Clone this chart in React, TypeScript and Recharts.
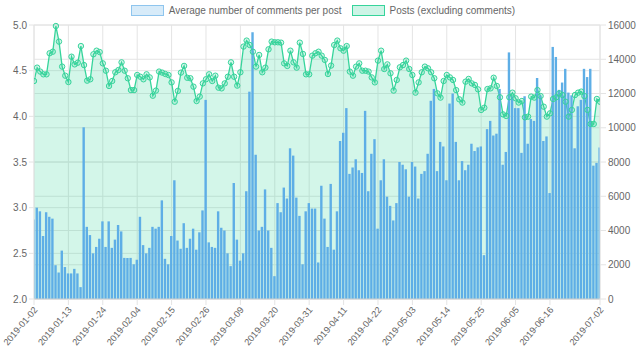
import React from 'react';
import { ComposedChart, Bar, Area, XAxis, YAxis, CartesianGrid } from 'recharts';

const START_DATE = Date.UTC(2019, 0, 2);

const avgComments = [
  2.87, 3.00, 2.96, 2.69, 2.95, 2.90, 2.88, 2.37, 2.29, 2.53,
  2.35, 2.28, 2.28, 2.33, 2.28, 2.13, 3.88, 2.79, 2.70, 2.50,
  2.57, 2.66, 2.85, 2.57, 2.85, 2.56, 2.65, 2.81, 2.74, 2.45,
  2.45, 2.45, 2.38, 2.43, 2.90, 2.59, 2.50, 2.56, 2.79, 2.77,
  2.79, 3.08, 2.44, 2.38, 2.69, 3.30, 2.64, 2.55, 2.83, 2.56,
  2.66, 2.77, 2.54, 2.73, 2.97, 4.18, 2.62, 2.57, 2.56, 2.96,
  2.78, 2.75, 2.50, 2.36, 3.27, 2.65, 2.42, 2.50, 3.18, 4.27,
  4.92, 3.58, 2.75, 2.79, 3.20, 2.75, 2.56, 2.25, 3.05, 2.95,
  3.22, 3.10, 3.65, 3.57, 3.11, 2.91, 2.38, 2.96, 3.05, 2.99,
  2.99, 2.40, 3.24, 2.88, 2.57, 3.26, 2.54, 2.96, 3.73, 3.82,
  4.09, 3.37, 3.44, 3.53, 3.41, 3.38, 4.06, 3.18, 3.59, 3.75,
  2.77, 3.30, 3.53, 3.12, 3.02, 2.86, 3.05, 3.50, 3.47, 3.42,
  3.12, 3.50, 3.45, 3.10, 3.37, 3.40, 3.59, 4.17, 4.30, 3.40,
  3.72, 3.67, 3.30, 4.14, 4.25, 3.72, 3.30, 3.51, 3.41, 3.47,
  3.70, 3.62, 3.66, 3.67, 2.48, 3.86, 3.95, 3.79, 3.81, 4.30,
  3.47, 3.61, 4.70, 4.22, 4.09, 4.09, 3.60, 4.22, 3.70, 3.97,
  3.95, 4.42, 4.23, 3.73, 3.78, 3.16, 4.76, 4.65, 4.29, 4.37,
  4.52, 4.26, 4.23, 3.65, 4.11, 4.18, 4.52, 4.43, 4.52, 3.46,
  3.49, 3.66,
];

const posts = [
  12730, 13510, 13280, 13120, 13120, 14350, 14440, 15940, 15030, 13570,
  13040, 12670, 14150, 13700, 13800, 14770, 13660, 12750, 12830, 14290,
  14500, 14420, 13760, 13330, 12440, 12730, 13240, 13370, 13820, 13330,
  12890, 12200, 12200, 13080, 12980, 12830, 13120, 12940, 11870, 12170,
  13280, 13220, 13140, 13080, 12650, 11520, 12150, 13220, 13610, 12920,
  12890, 12400, 11560, 11820, 12590, 12830, 13120, 12730, 13040, 12340,
  12300, 12590, 12980, 13820, 12980, 12460, 13240, 14740, 15090, 14830,
  14440, 13570, 14250, 13240, 13510, 14580, 15030, 14990, 14990, 14970,
  13760, 13610, 14500, 13820, 13510, 14970, 14310, 13120, 13120, 14210,
  14350, 14440, 14210, 13960, 13140, 13630, 14830, 15090, 14640, 14500,
  14770, 13280, 13040, 13570, 13760, 13330, 13330, 13280, 12940, 12650,
  13920, 14500, 13430, 13700, 13180, 12170, 12790, 13530, 13660, 13920,
  13430, 13080, 12050, 12650, 13240, 13570, 13470, 13240, 12890, 12010,
  11760, 12730, 13080, 12940, 12790, 12200, 11660, 11470, 12690, 12850,
  12590, 12500, 12240, 11040, 11170, 12260, 12300, 12920, 12440, 11780,
  10780, 10690, 11780, 12050, 11720, 11470, 11560, 10610, 10650, 11820,
  11760, 12200, 11850, 11230, 10650, 10840, 11680, 11780, 12010, 11910,
  11520, 10650, 11040, 11910, 12050, 12110, 11850, 11040, 10220, 10220,
  11680, 11520,
];

const dates = avgComments.map((_, i) =>
  new Date(START_DATE + i * 86400000).toISOString().slice(0, 10)
);

const xTickLabels = [
  '2019-01-02', '2019-01-13', '2019-01-24', '2019-02-04', '2019-02-15',
  '2019-02-26', '2019-03-09', '2019-03-20', '2019-03-31', '2019-04-11',
  '2019-04-22', '2019-05-03', '2019-05-14', '2019-05-25', '2019-06-05',
  '2019-06-16', '2019-07-02',
];

const leftTicks = [2, 2.5, 3, 3.5, 4, 4.5, 5];
const rightTicks = [0, 2000, 4000, 6000, 8000, 10000, 12000, 14000, 16000];

const seriesNames = ['Average number of comments per post', 'Posts (excluding comments)'];

const data = dates.map((d, i) => ({ i, date: d, avg: avgComments[i], posts: posts[i] }));
const xTicks = xTickLabels.map((l) => dates.indexOf(l));

const BLUE = '#5eaee6';
const GREEN = '#36d49b';
const TEXT = '#666';
const GRID = '#e4e4e4';
const FONT = '"Liberation Sans", Arial, sans-serif';

const XTick = (props: any) => {
  const { x, y, payload } = props;
  return (
    <g transform={`translate(${x + 1.5},${y + 1})`}>
      <text x={0} y={0} dy="0.35em" textAnchor="end" transform="rotate(-50)" fill={TEXT}
        fontSize={9.2} fontFamily={FONT}>
        {dates[payload.value]}
      </text>
    </g>
  );
};

const LegendBox = ({ fill, stroke, label }: { fill: string; stroke: string; label: string }) => (
  <div style={{ display: 'flex', alignItems: 'center', marginRight: 10 }}>
    <div style={{ width: 31, height: 9, background: fill, border: `1px solid ${stroke}`, marginRight: 5 }} />
    <span style={{ fontSize: 10, color: TEXT, fontFamily: FONT }}>{label}</span>
  </div>
);

export default function App() {
  return (
    <div style={{ position: 'absolute', left: 0, top: 0, width: 640, height: 361, background: '#fff' }}>
      <div style={{ position: 'absolute', top: 5, left: 0, width: 640, display: 'flex', justifyContent: 'center', paddingLeft: 8 }}>
        <LegendBox fill="rgba(94,174,230,0.25)" stroke="#8ec5ee" label={seriesNames[0]} />
        <LegendBox fill="rgba(54,212,155,0.25)" stroke={GREEN} label={seriesNames[1]} />
      </div>
      <ComposedChart width={640} height={361} data={data} margin={{ top: 25, right: 0, bottom: 0, left: 0 }}>
        <CartesianGrid yAxisId="left" stroke={GRID} horizontalValues={leftTicks} verticalValues={xTicks} />
        <CartesianGrid yAxisId="right" stroke={GRID} vertical={false} horizontalValues={rightTicks} />
        <XAxis dataKey="i" type="number" domain={[0, 181]} ticks={xTicks} interval={0} allowDataOverflow
          height={62} tick={<XTick />} tickSize={6} tickLine={{ stroke: GRID }} axisLine={{ stroke: '#d0d0d0' }} />
        <YAxis yAxisId="left" orientation="left" domain={[2, 5]} ticks={leftTicks} width={34} allowDataOverflow
          tickFormatter={(v: number) => v.toFixed(1)} tick={{ fill: TEXT, fontSize: 10, fontFamily: FONT }}
          tickSize={5} tickLine={{ stroke: GRID }} axisLine={{ stroke: GRID }} />
        <YAxis yAxisId="right" orientation="right" domain={[0, 16000]} ticks={rightTicks} width={40}
          tick={{ fill: TEXT, fontSize: 10, fontFamily: FONT }} tickSize={6} tickLine={{ stroke: GRID }} axisLine={{ stroke: GRID }} />
        <Area yAxisId="right" dataKey="posts" name={seriesNames[1]} type="linear" stroke={GREEN} strokeWidth={1.3}
          fill="rgba(54,212,155,0.22)" fillOpacity={1} isAnimationActive={false}
          dot={{ r: 2.7, stroke: GREEN, strokeWidth: 1, fill: 'rgba(54,212,155,0.2)' }} activeDot={false} />
        <Bar yAxisId="left" dataKey="avg" name={seriesNames[0]} fill={BLUE} barSize={2.4} isAnimationActive={false} />
      </ComposedChart>
    </div>
  );
}
